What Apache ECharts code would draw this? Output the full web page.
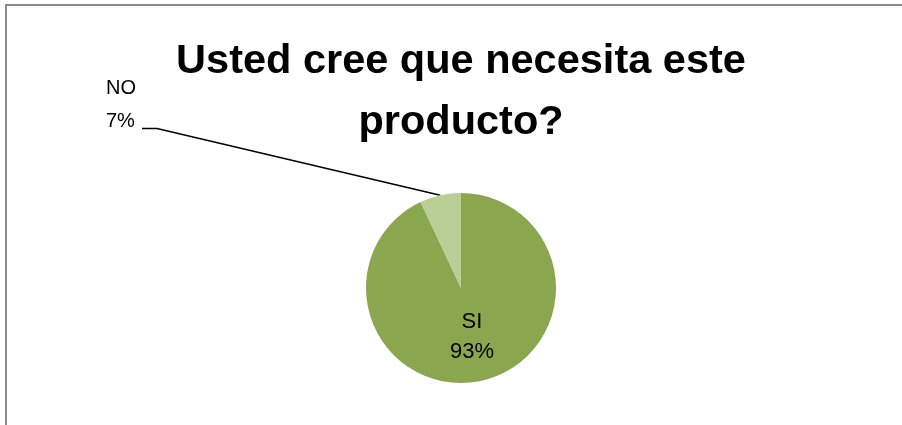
<!DOCTYPE html>
<html>
<head>
<meta charset="utf-8">
<script src="https://cdn.jsdelivr.net/npm/echarts@6/dist/echarts.min.js"></script>
<style>
html,body{margin:0;padding:0;background:#fff;}
#chart{width:902px;height:425px;}
</style>
</head>
<body>
<div id="chart"></div>
<script>
var titleText = 'Usted cree que necesita este\nproducto?';
var categories = ['SI', 'NO'];
var values = [93, 7];
var colors = ['#8AA64F', '#B9CF96'];

var chart = echarts.init(document.getElementById('chart'), null, {renderer: 'canvas'});

var data = categories.map(function (c, i) {
  var item = {name: c, value: values[i], itemStyle: {color: colors[i]}};
  if (c === 'SI') {
    item.label = {position: 'inside', fontSize: 22, lineHeight: 30, padding: 0};
    item.labelLine = {show: false};
  }
  return item;
});

chart.setOption({
  backgroundColor: '#ffffff',
  animation: false,
  graphic: [{
    type: 'rect',
    shape: {x: 6, y: 5, width: 1000, height: 1000},
    style: {fill: 'none', stroke: '#8c8c8c', lineWidth: 2},
    silent: true
  }],
  title: {
    text: titleText,
    left: 461,
    textAlign: 'center',
    top: 31,
    padding: 0,
    textStyle: {
      fontFamily: 'Liberation Sans',
      fontWeight: 'bold',
      fontSize: 41.5,
      lineHeight: 61,
      color: '#000'
    }
  },
  series: [{
    type: 'pie',
    center: [461, 288],
    radius: 95,
    startAngle: 90,
    clockwise: true,
    data: data,
    label: {
      show: true,
      formatter: '{b}\n{d}%',
      fontFamily: 'Liberation Sans',
      fontSize: 20,
      lineHeight: 33,
      color: '#000',
      align: 'left',
      padding: [0, 6, 47, 60]
    },
    labelLine: {
      show: true,
      length2: 15,
      minTurnAngle: 0,
      smooth: false,
      lineStyle: {color: '#000', width: 1.5}
    },
    labelLayout: function (params) {
      if (params.dataIndex === 1) {
        return {x: 46, y: 72, align: 'left', verticalAlign: 'top'};
      }
    }
  }]
});
</script>
</body>
</html>
